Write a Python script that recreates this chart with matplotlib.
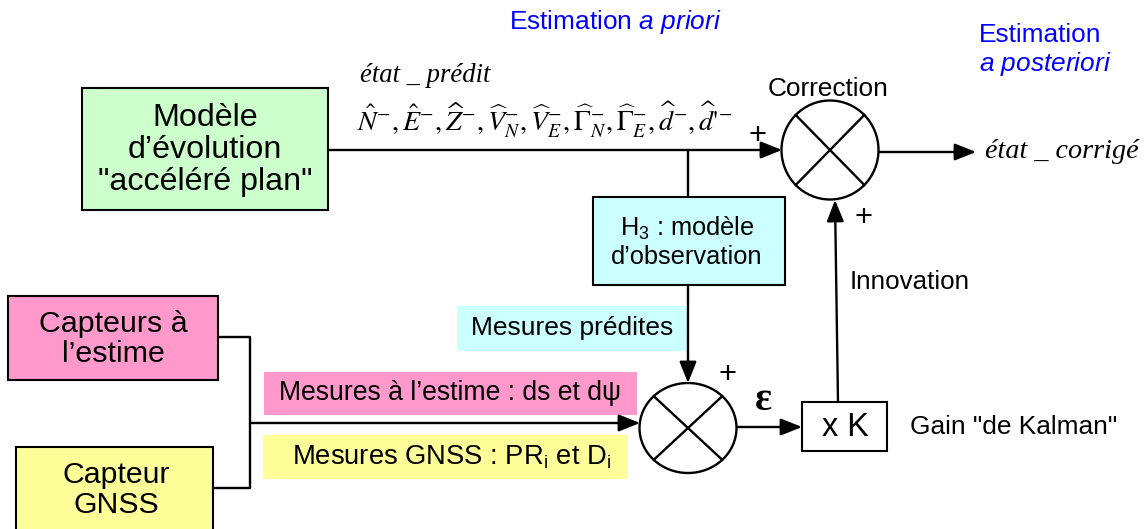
import matplotlib
matplotlib.use('Agg')
import numpy as np
import matplotlib.pyplot as plt
from matplotlib.patches import Rectangle, Ellipse

plt.rcParams['font.family'] = ['Liberation Sans', 'DejaVu Sans']
plt.rcParams['mathtext.fontset'] = 'custom'
plt.rcParams['mathtext.rm'] = 'Liberation Sans'
plt.rcParams['mathtext.it'] = 'Liberation Sans:italic'
plt.rcParams['mathtext.bf'] = 'Liberation Sans:bold'

# ---- texts of the diagram ----
title_priori = r"Estimation $\mathit{a}$ $\mathit{priori}$"
title_post = ["Estimation", r"$\mathit{a}$ $\mathit{posteriori}$"]
state_pred_label = "état _ prédit"
state_pred_vars = (r"$\hat{N}^{-},\hat{E}^{-},\widehat{Z}^{-},\widehat{V}_{N}^{-},"
                   r"\widehat{V}_{E}^{-},\widehat{\Gamma}_{N}^{-},\widehat{\Gamma}_{E}^{-},"
                   r"\widehat{d}^{-},\widehat{d}\text{'}^{-}$")
state_corr_label = "état _ corrigé"
model_label = "Modèle\nd’évolution\n\"accéléré plan\""
obs_label = "H$_\\mathregular{3}$ : modèle\nd’observation"
correction_label = "Correction"
innovation_label = "Innovation"
dr_sensor_label = "Capteurs à\nl’estime"
gnss_sensor_label = "Capteur\nGNSS"
pred_meas_label = "Mesures prédites"
dr_meas_label = "Mesures à l’estime : ds et dψ"
gnss_meas_label = "Mesures GNSS : PR$_\\mathregular{i}$ et D$_\\mathregular{i}$"
gain_box_label = "x K"
gain_label = "Gain \"de Kalman\""
eps_label = "ε"
plus_label = "+"

# ---- colours ----
c_green = '#ccffcc'
c_cyan = '#ccffff'
c_pink = '#ff99cc'
c_yellow = '#ffff99'
c_blue = '#0000ff'

W, H = 1147, 529
fig = plt.figure(figsize=(W / 100, H / 100), dpi=100)
ax = fig.add_axes([0, 0, 1, 1])
ax.set_xlim(0, W)
ax.set_ylim(H, 0)
ax.axis('off')
fig.canvas.draw()
R = fig.canvas.get_renderer()

LW = 1.7


def fit_text(x, y, s, width, ha='center', va='center', size=16, **kw):
    t = ax.text(x, y, s, ha=ha, va=va, fontsize=size, **kw)
    bb = t.get_window_extent(renderer=R)
    t.set_fontsize(size * width / bb.width)
    return t


def box(x0, y0, x1, y1, fc, ec='black', lw=1.5, z=1):
    ax.add_patch(Rectangle((x0, y0), x1 - x0, y1 - y0, fc=fc, ec=ec,
                           lw=lw if ec != 'none' else 0, zorder=z))


def line(pts):
    xs, ys = zip(*pts)
    ax.plot(xs, ys, color='black', lw=LW, solid_capstyle='butt', zorder=2)


def arrow(p0, p1):
    ax.annotate('', xy=p1, xytext=p0,
                arrowprops=dict(arrowstyle='-|>,head_length=0.65,head_width=0.26',
                                mutation_scale=20, lw=LW, color='black',
                                shrinkA=0, shrinkB=0), zorder=3)


def summer(cx, cy, rx, ry):
    ax.add_patch(Ellipse((cx, cy), 2 * rx, 2 * ry, fc='white', ec='black',
                         lw=LW, zorder=2))
    c = np.cos(np.pi / 4)
    ax.plot([cx - rx * c, cx + rx * c], [cy - ry * c, cy + ry * c], color='black', lw=LW, zorder=3)
    ax.plot([cx - rx * c, cx + rx * c], [cy + ry * c, cy - ry * c], color='black', lw=LW, zorder=3)


# ---- titles ----
fit_text(509, 22, title_priori, 213, ha='left', color=c_blue)
fit_text(979, 35, title_post[0], 123, ha='left', color=c_blue)
fit_text(979, 64, title_post[1], 133, ha='left', color=c_blue)

# ---- evolution model ----
box(82, 88, 328, 210, c_green)
fit_text(205, 150, model_label, 216, linespacing=1.1)

fit_text(360, 75, state_pred_label, 130, ha='left', family='Liberation Serif', style='italic')
fit_text(357, 120, state_pred_vars, 378, ha='left', math_fontfamily='stix')

# top line into correction summer
arrow((328, 150), (782, 150))
line([(688, 150), (688, 197)])

# correction summer
summer(830, 150, 48.5, 49.5)
fit_text(828, 89, correction_label, 121)
fit_text(757, 136, plus_label, 18)
fit_text(863, 218, plus_label, 18)
arrow((879, 152), (976, 152))
fit_text(985, 152, state_corr_label, 153, ha='left', family='Liberation Serif', style='italic')

# observation model
box(593, 197, 785, 285, c_cyan)
fit_text(687, 242, obs_label, 151, linespacing=1.15)
arrow((688, 285), (688, 383))

# predicted measurements label
box(457, 306, 687, 351, c_cyan, ec='none', z=0)
fit_text(572, 328, pred_meas_label, 203)

# innovation
fit_text(850, 282, innovation_label, 120, ha='left')

# sensors
box(8, 296, 218, 380, c_pink)
fit_text(113, 339, dr_sensor_label, 149, linespacing=1.1)
box(16, 447, 213, 560, c_yellow)
fit_text(116, 490, gnss_sensor_label, 108, linespacing=1.1)
line([(218, 337), (250, 337), (250, 488), (213, 488)])
arrow((250, 423), (640, 423))

# measurement labels
box(264, 372, 637, 415, c_pink, ec='none', z=0)
fit_text(450, 393, dr_meas_label, 344)
box(263, 435, 628, 479, c_yellow, ec='none', z=0)
fit_text(452, 457, gnss_meas_label, 320)

# innovation summer
summer(688, 428, 48.5, 45)
fit_text(728, 375, plus_label, 18)
fit_text(763, 400, eps_label, 17, family='Liberation Serif', weight='bold')
arrow((737, 427), (802, 427))

# gain box
box(802, 402, 887, 451, 'white')
fit_text(845, 427, gain_box_label, 47)
fit_text(910, 427, gain_label, 208, ha='left')
arrow((838, 402), (835, 200))

fig.savefig('out.png', dpi=100)
